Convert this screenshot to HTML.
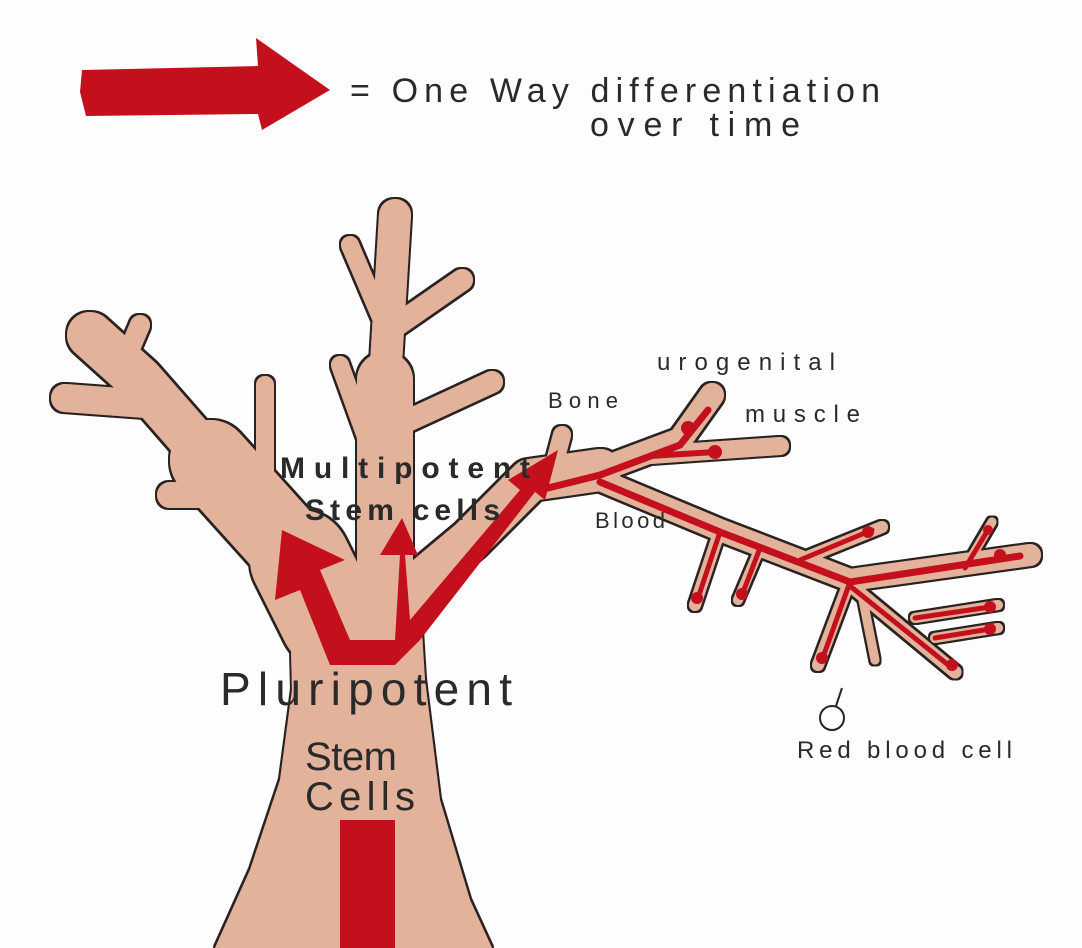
<!DOCTYPE html>
<html><head><meta charset="utf-8"><style>
html,body{margin:0;padding:0;background:#fdfdfd;}
svg{display:block;}
text{font-family:"Liberation Sans",sans-serif;fill:#2a2a2a;}
</style></head><body>
<svg width="1082" height="948" viewBox="0 0 1082 948" xmlns="http://www.w3.org/2000/svg">
<defs>
<filter id="ol" x="-10%" y="-10%" width="120%" height="120%">
<feMorphology in="SourceAlpha" operator="dilate" radius="2" result="d"/>
<feFlood flood-color="#2b2320"/>
<feComposite in2="d" operator="in" result="o"/>
<feMerge><feMergeNode in="o"/><feMergeNode in="SourceGraphic"/></feMerge>
</filter>
</defs>
<rect width="1082" height="948" fill="#fdfdfd"/>
<polygon points="82,70 258,66 256,38 330,90 262,130 258,114 86,116 80,92" fill="#c4101c"/>
<text x="350" y="102" font-size="34" textLength="530" lengthAdjust="spacing">= One Way differentiation</text>
<text x="590" y="136" font-size="34" textLength="210" lengthAdjust="spacing">over time</text>

<g filter="url(#ol)">
<polygon points="215,948 250,870 280,780 292,690 290,610 330,580 400,560 420,600 425,680 440,800 470,900 492,948" fill="#e2b39a"/>
<g stroke-linecap="round" stroke-linejoin="round" fill="none" stroke="#e2b39a">
<path d="M330,620 L300,560" stroke-width="100"/>
<path d="M300,560 L210,460" stroke-width="80"/>
<path d="M210,460 L140,380 L90,335" stroke-width="46"/>
<path d="M160,405 L65,398" stroke-width="28"/>
<path d="M125,360 L140,325" stroke-width="20"/>
<path d="M230,495 L170,495" stroke-width="26"/>
<path d="M265,480 L265,385" stroke-width="18"/>
<path d="M385,600 L385,380" stroke-width="56"/>
<path d="M385,380 L395,215" stroke-width="32"/>
<path d="M390,330 L462,280" stroke-width="22"/>
<path d="M382,320 L350,245" stroke-width="18"/>
<path d="M388,430 L492,382" stroke-width="22"/>
<path d="M378,470 L340,365" stroke-width="18"/>
<path d="M410,590 L470,540 L530,480 L600,470" stroke-width="42"/>
<path d="M550,480 L562,435" stroke-width="18"/>
<path d="M600,470 L680,440 L712,395" stroke-width="24"/>
<path d="M650,455 L780,446" stroke-width="18"/>
<path d="M600,480 L720,530 L850,580 L1030,555" stroke-width="22"/>
<path d="M720,530 L695,605" stroke-width="12"/>
<path d="M760,548 L738,600" stroke-width="10"/>
<path d="M800,560 L882,527" stroke-width="12"/>
<path d="M850,580 L818,665" stroke-width="12"/>
<path d="M850,585 L955,672" stroke-width="13"/>
<path d="M915,618 L998,605" stroke-width="10"/>
<path d="M935,638 L998,628" stroke-width="10"/>
<path d="M965,568 L992,522" stroke-width="9"/>
<path d="M860,585 L875,660" stroke-width="9"/>
</g>
</g>

<g fill="#c4101c">
<rect x="340" y="820" width="55" height="128"/>
<polygon points="330,665 300,590 275,600 282,530 345,560 320,570 350,640 395,640 400,555 380,555 402,518 418,555 405,555 410,620 520,490 508,480 558,450 545,500 535,492 420,640 395,665"/>
</g>
<g stroke="#c4101c" fill="none" stroke-linecap="round">
<path d="M540,490 L600,475 L680,445 L708,410" stroke-width="7"/>
<path d="M650,456 L715,452" stroke-width="6"/>
<path d="M600,482 L720,532 L850,582 L1020,556" stroke-width="7"/>
<path d="M720,532 L698,598 M760,548 L742,595 M800,560 L872,530 M850,582 L822,660 M850,586 L952,668 M915,618 L990,607 M935,638 L990,629 M965,568 L988,530" stroke-width="5"/>
</g>
<g fill="#c4101c">
<circle cx="688" cy="428" r="7"/><circle cx="715" cy="452" r="7"/><circle cx="868" cy="532" r="6"/>
<circle cx="697" cy="598" r="6"/><circle cx="742" cy="594" r="6"/><circle cx="822" cy="658" r="6"/>
<circle cx="952" cy="665" r="6"/><circle cx="990" cy="607" r="6"/><circle cx="990" cy="629" r="6"/>
<circle cx="1000" cy="555" r="6"/><circle cx="988" cy="530" r="5"/>
</g>

<text x="280" y="478" font-size="30" font-weight="bold" textLength="250" lengthAdjust="spacing">Multipotent</text>
<text x="305" y="520" font-size="30" font-weight="bold" textLength="195" lengthAdjust="spacing">Stem cells</text>
<text x="220" y="705" font-size="46" textLength="292" lengthAdjust="spacing">Pluripotent</text>
<text x="305" y="770" font-size="40" textLength="92" lengthAdjust="spacing">Stem</text>
<text x="305" y="810" font-size="40" textLength="110" lengthAdjust="spacing">Cells</text>
<text x="548" y="408" font-size="22" textLength="70" lengthAdjust="spacing">Bone</text>
<text x="657" y="370" font-size="24" textLength="178" lengthAdjust="spacing">urogenital</text>
<text x="745" y="422" font-size="24" textLength="115" lengthAdjust="spacing">muscle</text>
<text x="595" y="528" font-size="22" textLength="70" lengthAdjust="spacing">Blood</text>
<text x="797" y="758" font-size="24" textLength="215" lengthAdjust="spacing">Red blood cell</text>
<circle cx="832" cy="718" r="12" fill="none" stroke="#2b2320" stroke-width="2"/>
<path d="M842,688 L836,706" stroke="#2b2320" stroke-width="2"/>
</svg>
</body></html>
